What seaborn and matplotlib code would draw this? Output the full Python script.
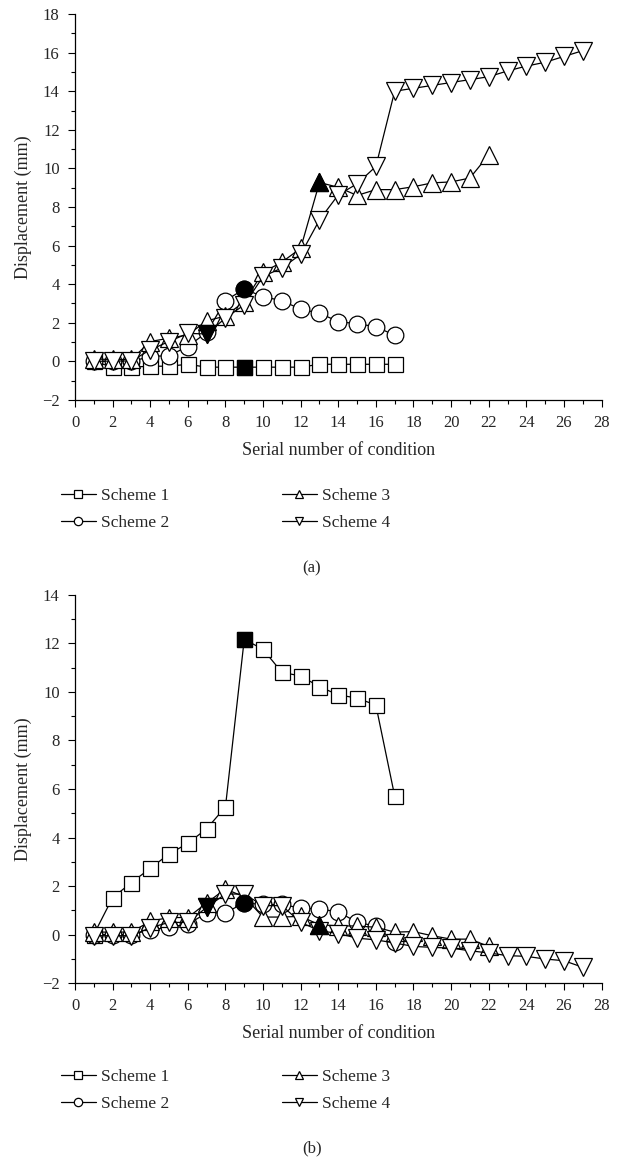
import matplotlib
matplotlib.use("Agg")
import matplotlib.pyplot as plt
from matplotlib.ticker import MultipleLocator
import seaborn as sns
import numpy as np

sns.set_style("ticks")
plt.rcParams['font.family'] = ['Liberation Serif', 'DejaVu Serif']

# ---------------- data ----------------
labels = ["Scheme 1", "Scheme 2", "Scheme 3", "Scheme 4"]
markers = ["s", "o", "^", "v"]

# (a)
a_s1 = [0, -0.3, -0.3, -0.25, -0.25, -0.15, -0.3, -0.3, -0.3, -0.3, -0.3, -0.3,
        -0.15, -0.15, -0.15, -0.15, -0.15]
a_s2 = [0, 0, 0, 0.25, 0.3, 0.77, 1.5, 3.15, 3.75, 3.35, 3.15, 2.7, 2.5, 2.06,
        1.95, 1.8, 1.35]
a_s3 = [0.12, 0.1, 0.1, 1.03, 1.2, 1.37, 2.1, 2.35, 3.1, 4.62, 5.14, 5.86, 9.27,
        9.02, 8.6, 8.9, 8.9, 9.05, 9.25, 9.3, 9.5, 10.7]
a_s4 = [0, 0.02, 0.02, 0.6, 1.03, 1.45, 1.42, 2.24, 2.93, 4.4, 4.84, 5.54, 7.33,
        8.63, 9.2, 10.1, 14.0, 14.15, 14.3, 14.45, 14.6, 14.75, 15.05, 15.3,
        15.5, 15.8, 16.1]
a_filled = [9, 9, 13, 7]   # condition number of the solid marker in each series

# (b)
b_s1 = [0, 1.52, 2.14, 2.73, 3.32, 3.76, 4.36, 5.26, 12.17, 11.76, 10.81, 10.66,
        10.22, 9.88, 9.75, 9.46, 5.71]
b_s2 = [0, 0, 0, 0.19, 0.3, 0.43, 0.88, 0.9, 1.3, 1.24, 1.24, 1.09, 1.05, 0.94,
        0.5, 0.35, -0.3]
b_s3 = [0.1, 0.1, 0.1, 0.55, 0.7, 0.7, 1.3, 1.88, 1.55, 0.72, 0.72, 0.75, 0.4,
        0.36, 0.35, 0.3, 0.1, 0.12, -0.05, -0.19, -0.19, -0.49]
b_s4 = [-0.05, -0.05, -0.05, 0.28, 0.5, 0.5, 1.12, 1.67, 1.67, 1.19, 1.19, 0.5,
        0.16, 0.04, -0.15, -0.22, -0.35, -0.49, -0.53, -0.56, -0.67, -0.76,
        -0.87, -0.9, -1.01, -1.08, -1.35]
b_filled = [9, 9, 13, 7]

x_ticks = list(range(0, 29, 2))
a_yticks = list(range(-2, 19, 2))
b_yticks = list(range(-2, 15, 2))
xlabel = "Serial number of condition"
ylabel = "Displacement (mm)"

# --------------- styling ---------------
msizes = {"s": 10.8, "o": 12, "^": 13, "v": 13}
FS = 12

fig = plt.figure(figsize=(6.24, 11.58), dpi=100)
ax1 = fig.add_axes([0.1202, 0.6546, 0.8438, 0.3333])
ax2 = fig.add_axes([0.1202, 0.1511, 0.8438, 0.3351])


def draw(ax, series, filled, yticks, ylim, tag, legend_top, tag_y):
    handles = []
    for i, (vals, lab, mk) in enumerate(zip(series, labels, markers)):
        xs = np.arange(1, len(vals) + 1)
        sns.lineplot(x=xs, y=vals, ax=ax, marker=mk, markersize=msizes[mk],
                     markerfacecolor="white", markeredgecolor="black",
                     markeredgewidth=0.9, color="black", linewidth=0.9,
                     zorder=2 + i, legend=False)
        fx = filled[i]
        sns.scatterplot(x=[fx], y=[vals[fx - 1]], ax=ax, marker=mk,
                        s=msizes[mk] ** 2, color="black", edgecolor="black",
                        linewidth=0.9, zorder=10, legend=False)
        h, = ax.plot([], [], marker=mk, markersize=6, markerfacecolor="white",
                     markeredgecolor="black", markeredgewidth=0.9,
                     color="black", linewidth=0.9, label=lab)
        handles.append(h)
    ax.set_xlim(0, 28)
    ax.set_ylim(*ylim)
    ax.set_xticks(x_ticks)
    ax.set_yticks(yticks)
    ax.xaxis.set_minor_locator(MultipleLocator(1))
    ax.yaxis.set_minor_locator(MultipleLocator(1))
    ax.tick_params(which="major", direction="out", length=5, width=0.8,
                   labelsize=FS, pad=6, color="black")
    ax.tick_params(which="minor", direction="out", length=3, width=0.8,
                   color="black")
    ax.set_yticklabels(["\u22122" if t == -2 else str(t) for t in yticks])
    for sp in ["top", "right"]:
        ax.spines[sp].set_visible(False)
    for sp in ["left", "bottom"]:
        ax.spines[sp].set_linewidth(0.9)
        ax.spines[sp].set_color("black")
    ax.set_xlabel(xlabel, fontsize=FS + 1, labelpad=8)
    ax.set_ylabel(ylabel, fontsize=FS + 1, labelpad=7)
    fig.legend(handles=handles, loc="upper left",
               bbox_to_anchor=(61 / 624, 1 - legend_top / 1158),
               bbox_transform=fig.transFigure, ncol=2, frameon=False,
               fontsize=FS + 0.5, handlelength=2.0, handletextpad=0.3,
               columnspacing=6.5, labelspacing=0.6, borderpad=0,
               borderaxespad=0)
    fig.text(312 / 624, 1 - tag_y / 1158, tag, ha="center", va="center",
             fontsize=FS)


draw(ax1, [a_s1, a_s2, a_s3, a_s4], a_filled, a_yticks, (-2, 18), "(a)", 488, 568)
draw(ax2, [b_s1, b_s2, b_s3, b_s4], b_filled, b_yticks, (-2, 14), "(b)", 1069, 1148)

fig.savefig("out.png", dpi=100)
